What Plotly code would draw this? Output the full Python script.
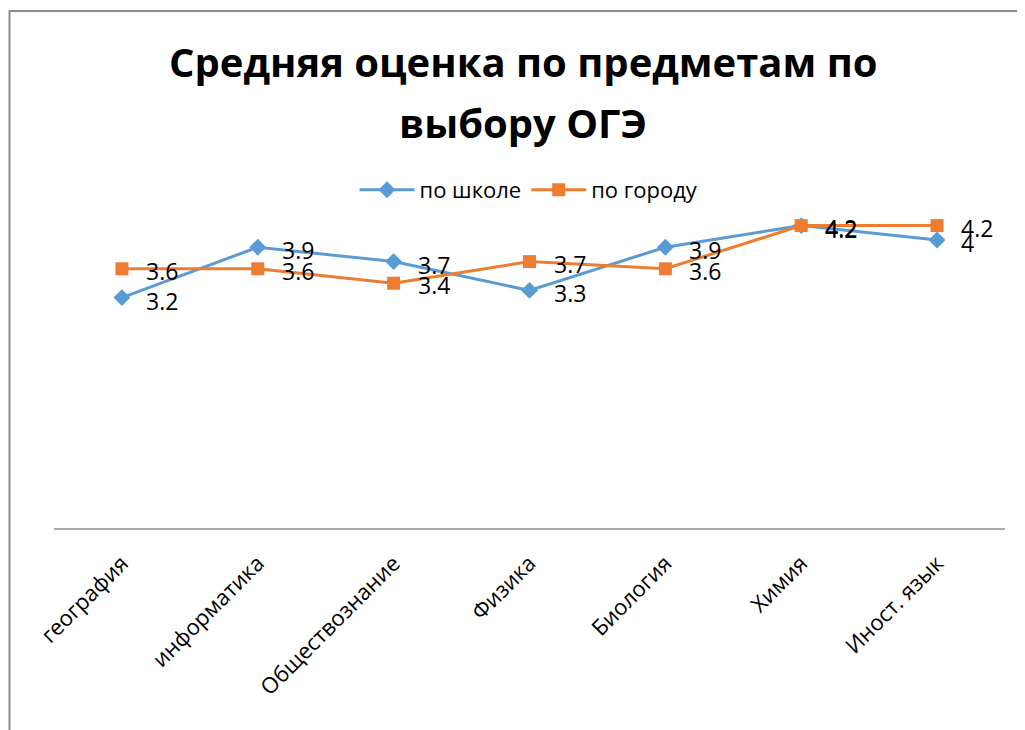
import plotly.graph_objects as go

categories = ["география", "информатика", "Обществознание", "Физика", "Биология", "Химия", "Иност. язык"]
school = [3.2, 3.9, 3.7, 3.3, 3.9, 4.2, 4.0]
city = [3.6, 3.6, 3.4, 3.7, 3.6, 4.2, 4.2]
school_labels = ["3.2", "3.9", "3.7", "3.3", "3.9", "4.2", "4"]
city_labels = ["3.6", "3.6", "3.4", "3.7", "3.6", "4.2", "4.2"]

BLUE = "#5B9BD5"
ORANGE = "#ED7D31"
FONT = "Open Sans"

OFF = 8  # page body margin
W, H = 1025 - OFF, 730 - OFF
L, T = 54 - OFF, 168 - OFF
R = W - (1005 - OFF)
B = H - (528 - OFF)
pw, ph = W - L - R, H - T - B


def px_x(x):
    return (x - OFF - L) / pw


def px_y(y):
    return (H - (y - OFF) - B) / ph


fig = go.Figure()
fig.add_trace(go.Scatter(
    x=categories, y=school, name="по школе", mode="lines+markers",
    line=dict(color=BLUE, width=3),
    marker=dict(symbol="diamond", size=13, color=BLUE),
))
fig.add_trace(go.Scatter(
    x=categories, y=city, name="по городу", mode="lines+markers",
    line=dict(color=ORANGE, width=3),
    marker=dict(symbol="square", size=13, color=ORANGE),
))

annotations = []
for c, v, t in zip(categories, school, school_labels):
    annotations.append(dict(x=c, y=v, text=t, showarrow=False, xanchor="left",
                            yanchor="middle", xshift=22, yshift=-3,
                            font=dict(family=FONT, size=23, color="black")))
for c, v, t in zip(categories, city, city_labels):
    annotations.append(dict(x=c, y=v, text=t, showarrow=False, xanchor="left",
                            yanchor="middle", xshift=22, yshift=-2,
                            font=dict(family=FONT, size=23, color="black")))

annotations.append(dict(xref="paper", yref="paper", x=px_x(523), y=px_y(62),
                        text="<b>Средняя оценка по предметам по</b>", showarrow=False,
                        xanchor="center", yanchor="middle",
                        font=dict(family=FONT, size=40, color="black")))
annotations.append(dict(xref="paper", yref="paper", x=px_x(523), y=px_y(122),
                        text="<b>выбору ОГЭ</b>", showarrow=False,
                        xanchor="center", yanchor="middle",
                        font=dict(family=FONT, size=40, color="black")))

shapes = [dict(type="rect", xref="paper", yref="paper",
               x0=px_x(9.5), x1=px_x(1060),
               y0=px_y(780), y1=px_y(11),
               line=dict(color="#8C8C8C", width=2), fillcolor="rgba(0,0,0,0)", layer="below")]

fig.update_layout(
    width=W, height=H,
    margin=dict(l=L, r=R, t=T, b=B),
    paper_bgcolor="white", plot_bgcolor="white",
    font=dict(family=FONT, color="black"),
    showlegend=True,
    legend=dict(orientation="h", x=px_x(529), xanchor="center", y=px_y(190), yanchor="middle",
                font=dict(family=FONT, size=22, color="black"), itemwidth=55,
                tracegroupgap=10, bgcolor="rgba(0,0,0,0)"),
    annotations=annotations,
    shapes=shapes,
    xaxis=dict(type="category", range=[-0.5, 6.5], showgrid=False, showline=True,
               linecolor="#ABABAB", linewidth=1.5, ticks="", tickangle=-45,
               ticklabelstandoff=12,
               tickfont=dict(family=FONT, size=22, color="black"), zeroline=False),
    yaxis=dict(range=[0, 5], showgrid=False, showticklabels=False, showline=False,
               zeroline=False, ticks=""),
)

fig.write_html("out.html")
